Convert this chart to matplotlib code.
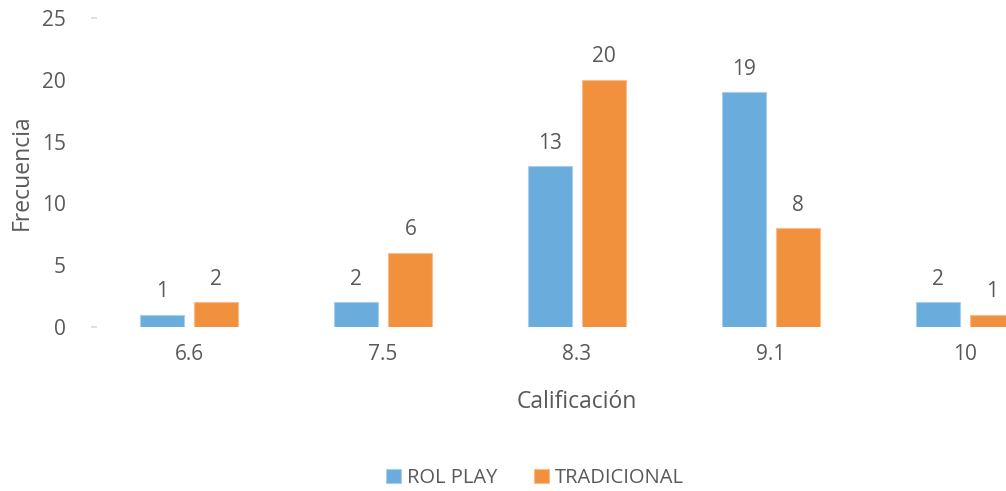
import matplotlib
matplotlib.use("Agg")
import matplotlib.pyplot as plt
import numpy as np

categories = ["6.6", "7.5", "8.3", "9.1", "10"]
rol_play = [1, 2, 13, 19, 2]
tradicional = [2, 6, 20, 8, 1]
series_names = ["ROL PLAY", "TRADICIONAL"]
y_ticks = [0, 5, 10, 15, 20, 25]

plt.rcParams['font.family'] = ['Open Sans', 'DejaVu Sans']
txt = '#595959'
blue = '#6aaddc'
orange = '#f2913d'

W, H = 1006, 491
fig = plt.figure(figsize=(W/100, H/100), dpi=100)
left_px, right_px = 92, 1062
top_px, bot_px = 18, 327
ax = fig.add_axes([left_px/W, 1-bot_px/H, (right_px-left_px)/W, (bot_px-top_px)/H])

x = np.arange(len(categories))
off = 0.141
bw = 0.226
b1 = ax.bar(x-off, rol_play, bw, color=blue, edgecolor='#a9cdea', linewidth=0.8, label=series_names[0])
b2 = ax.bar(x+off, tradicional, bw, color=orange, edgecolor='#f7bd8c', linewidth=0.8, label=series_names[1])
for bars, vals in ((b1, rol_play), (b2, tradicional)):
    for r, v in zip(bars, vals):
        ax.annotate(str(v), (r.get_x()+r.get_width()/2, v), xytext=(0, 9), textcoords='offset points',
                    ha='center', va='bottom', fontsize=15, color=txt)

ax.set_xlim(-0.5, len(categories)-0.5)
ax.set_ylim(0, 25)
ax.set_yticks(y_ticks)
ax.set_xticks(x)
ax.set_xticklabels(categories)
for s in ax.spines.values():
    s.set_visible(False)
ax.tick_params(axis='both', length=0, labelsize=15, labelcolor=txt)
ax.tick_params(axis='y', pad=19)
ax.tick_params(axis='x', pad=12)
ax.set_xlabel("Calificación", fontsize=16.5, color=txt, labelpad=18)
ax.set_ylabel("Frecuencia", fontsize=16.5, color=txt, labelpad=6)
ax.plot([-0.5, -0.478], [0, 0], color='#d9d9d9', lw=1.2, clip_on=False)
ax.plot([-0.5, -0.478], [25, 25], color='#d9d9d9', lw=1.2, clip_on=False)

fig.legend(handles=[b1, b2], labels=series_names, loc='center', bbox_to_anchor=(535/W, 1-478/H),
           ncol=2, frameon=False, fontsize=14.5, labelcolor=txt, handlelength=0.75, handleheight=0.75,
           handletextpad=0.3, columnspacing=1.8)

fig.savefig("out.png", dpi=100)
